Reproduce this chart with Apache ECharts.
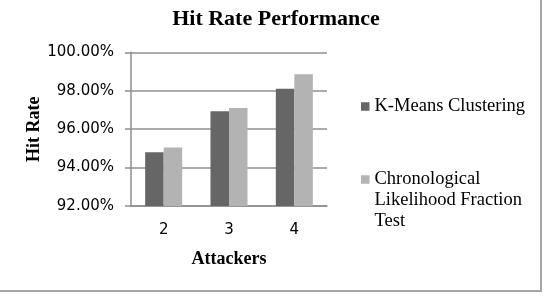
<!DOCTYPE html>
<html>
<head>
<meta charset="utf-8">
<script src="https://cdn.jsdelivr.net/npm/echarts@6/dist/echarts.min.js"></script>
<style>
html,body{margin:0;padding:0;background:#fff;}
#frame{position:absolute;left:0;top:0;width:540px;height:290px;border-right:2px solid #a6a6a6;border-bottom:2px solid #a6a6a6;}
#chart{position:absolute;left:0;top:0;width:546px;height:298px;}
</style>
</head>
<body>
<div id="frame"></div>
<div id="chart"></div>
<script>
const categories = ['2', '3', '4'];
const kMeans = [94.80, 96.93, 98.10];
const clft = [95.04, 97.10, 98.86];
const seriesNames = ['K-Means Clustering', 'Chronological Likelihood Fraction Test'];
const yTicks = {min: 92, max: 100, interval: 2};

const chart = echarts.init(document.getElementById('chart'), null, {renderer: 'canvas'});
const serif = '"Liberation Serif", "Times New Roman", serif';
const sans = '"DejaVu Sans", sans-serif';
chart.setOption({
  animation: false,
  backgroundColor: 'transparent',
  title: {
    text: 'Hit Rate Performance',
    left: 271, top: 3, textAlign: 'center',
    textStyle: {fontFamily: serif, fontWeight: 'bold', fontSize: 22, color: '#000'}
  },
  legend: {
    orient: 'vertical',
    left: 356, top: 91,
    itemWidth: 8.5, itemHeight: 8.5, itemGap: 10,
    icon: 'rect',
    data: seriesNames,
    formatter: function (name) {
      if (name === seriesNames[1]) return '\n\nChronological\nLikelihood Fraction\nTest';
      return name;
    },
    textStyle: {fontFamily: serif, fontSize: 18.5, color: '#000', lineHeight: 21}
  },
  grid: {left: 131, right: 219, top: 52.3, bottom: 92, containLabel: false},
  xAxis: {
    type: 'category',
    data: categories,
    name: 'Attackers',
    nameLocation: 'middle',
    nameGap: 44,
    nameTextStyle: {fontFamily: serif, fontWeight: 'bold', fontSize: 18, color: '#000'},
    axisLine: {lineStyle: {color: '#8f8f8f', width: 1.5}},
    axisTick: {show: false},
    axisLabel: {margin: 17, fontFamily: sans, fontSize: 15, color: '#000'}
  },
  yAxis: {
    type: 'value',
    min: yTicks.min, max: yTicks.max, interval: yTicks.interval,
    name: 'Hit Rate',
    nameLocation: 'middle',
    nameGap: 88,
    nameRotate: 90,
    nameTextStyle: {fontFamily: serif, fontWeight: 'bold', fontSize: 18, color: '#000'},
    axisLine: {show: true, lineStyle: {color: '#8f8f8f', width: 1.5}},
    axisTick: {show: true, length: 6, lineStyle: {color: '#8f8f8f', width: 1.5}},
    axisLabel: {margin: 17, fontFamily: sans, fontSize: 15, color: '#000',
      formatter: v => v.toFixed(2) + '%'},
    splitLine: {show: true, lineStyle: {color: '#8f8f8f', width: 1.5}}
  },
  series: [
    {name: seriesNames[0], type: 'bar', data: kMeans, barWidth: 18.5, barGap: '0%',
     itemStyle: {color: '#666666'}},
    {name: seriesNames[1], type: 'bar', data: clft, barWidth: 18.5, barGap: '0%',
     itemStyle: {color: '#b3b3b3'}}
  ]
});
</script>
</body>
</html>
